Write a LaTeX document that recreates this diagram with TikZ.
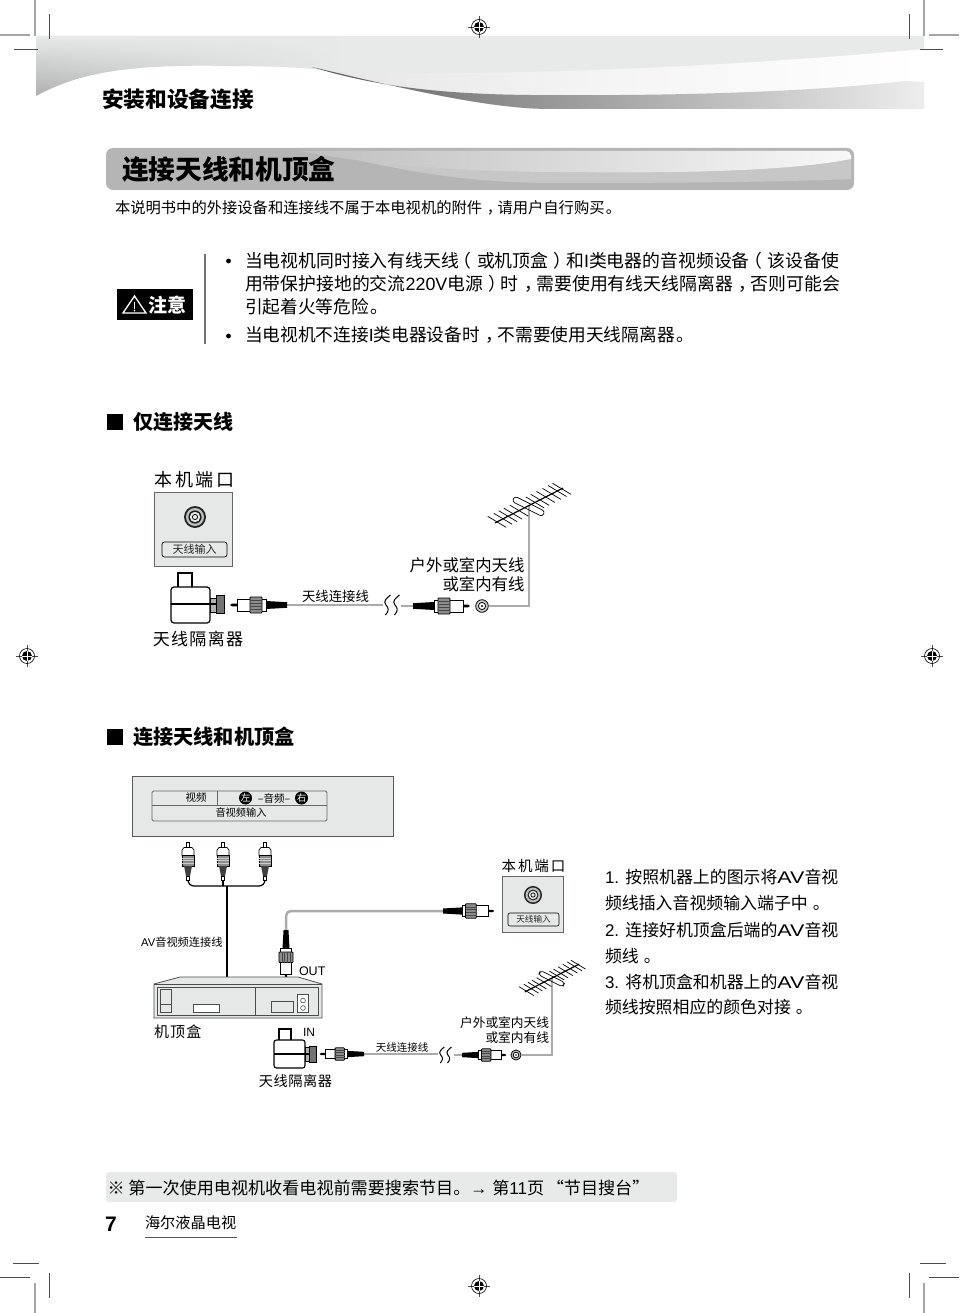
\documentclass[tikz,border=0pt]{standalone}
\usepackage{fontspec}
\usetikzlibrary{fadings}
\setmainfont{Noto Sans CJK SC}
\newfontfamily\latf{Liberation Sans}
\newcommand\fs[1]{\fontsize{#1}{#1}\selectfont}
\newcommand\la[1]{{\latf #1}}
\newcommand\wav{{\latf\scalebox{1.27}[1]{AV}}}
\newcommand\pd{\kern0.3em。\kern-0.3em}
\newcommand\pe{\kern0.08em。\kern-0.08em}
\newcommand\cm{\kern0.3em，\kern-0.3em}
\newcommand\lp{\kern-0.3em（\kern0.3em}
\newcommand\rp{\kern0.3em）\kern-0.3em}
\definecolor{bandc}{HTML}{E8EAEA}
\definecolor{panelc}{HTML}{E6E7E7}
\definecolor{wirec}{HTML}{ABABAB}
\tikzset{
  x=1pt,y=-1pt,
  txt/.style={inner sep=0pt,outer sep=0pt,text=black},
  lft/.style={txt,anchor=west},
  rgt/.style={txt,anchor=east},
  crop/.style={line width=0.6pt,color=black!70},
  cropg/.style={line width=1.3pt,color=black!35},
  portbox/.style={draw=black!60,line width=0.8pt,fill=panelc},
  coax/.style={line width=2.5pt,color=wirec},
  regmark/.pic={
    \draw[line width=0.4pt,black!70] (-11,0)--(11,0) (0,-11)--(0,11);
    \draw[line width=0.6pt,black] (0,0) circle[radius=7.5];
    \fill[black] (0,0) circle[radius=5];
    \draw[line width=0.4pt,white] (-5,0)--(5,0) (0,-5)--(0,5);
  },
  plug/.pic={
    \fill[black] (0,-2.8)--(21,-4)--(21,4)--(0,2.8)--cycle;
    \fill[black] (50,-1.3)--(55,-1.3)--(57,0)--(55,1.3)--(50,1.3)--cycle;
    \draw[line width=0.7pt,fill=white] (21,-6)--(50,-6)--(50,6)--(21,6)--cycle;
    \draw[line width=0.8pt,fill=black!45,rounded corners=0.8pt] (25,-8)--(37,-8)--(37,8)--(25,8)--cycle;
    \foreach \q in {-4.5,-1.5,1.5,4.5}{\draw[line width=0.7pt,black!72] (25,\q)--(37,\q);}
  },
  rca/.pic={
    \draw[line width=0.6pt,fill=white] (-1.7,0)--(1.7,0)--(1.7,6)--(-1.7,6)--cycle;
    \draw[line width=0.7pt,fill=white] (-4,5.5) -- (4,5.5) -- (6,8) -- (6,13.5) -- (-6,13.5) -- (-6,8) -- cycle;
    \draw[line width=0.7pt,fill=black!45] (-6,13.5)--(6,13.5)--(6,24)--(-6,24)--cycle;
    \foreach \q in {16,18.5,21}{\draw[line width=0.5pt,black!20] (-6,\q)--(6,\q);}
    \fill[black!75] (-4,24)--(4,24)--(2,34)--(-2,34)--cycle;
    \draw[line width=0.6pt] (-1.3,34) rectangle (1.3,38);
  },
  antenna/.pic={
    \foreach \t in {-32,-26,-21,-16,-10,6,11,16.7,22.7,28.3,32.7}{
      \draw[line width=0.7pt] (\t-9.2,-0.512*\t-5.5)--(\t+9.2,-0.512*\t+5.5);
    }
    \draw[line width=1.2pt] (-34,17.4)--(34,-17.4);
    \draw[line width=0.7pt,rotate=-26.6,rounded corners=3pt] (-17,-2)--(17,-2)--(17,4)--(-17,4)--cycle;
  },
  socket/.pic={
    \fill[black!85] (0,0) circle[radius=11];
    \fill[black!25] (0,0) circle[radius=9];
    \fill[black!90] (0,0) circle[radius=6.6];
    \fill[panelc] (0,0) circle[radius=5.2];
    \draw[line width=0.7pt] (0,0) circle[radius=2.6];
  },
  jack/.pic={
    \draw[line width=0.8pt,fill=black!20] (0,0) circle[radius=6.3];
    \draw[line width=0.8pt,fill=white] (0,0) circle[radius=3.6];
    \fill[black] (0,0) circle[radius=1.2];
  },
  brk/.pic={
    \foreach \dx in {0,9}{
      \draw[line width=1pt,xshift=\dx pt] (3.5,-10) .. controls (0,-7) and (-4.5,-4) .. (-1,0) .. controls (2,3) and (2,6) .. (-1.5,10);
    }
  }
}
\begin{document}
\begin{tikzpicture}
\useasboundingbox (0,0) rectangle (959,1313);
\fill[white] (0,0) rectangle (959,1313);

% header band
\fill[bandc] (36,36) -- (924,36) -- (924,109) -- (550,109) .. controls (500,109) and (430,95) .. (342,74) .. controls (320,68) and (290,66.5) .. (230,66) .. controls (130,64) and (80,72) .. (36,96) -- cycle;
\begin{scope}
\clip (36,36) -- (340,36) -- (340,74) .. controls (320,68) and (290,66.5) .. (230,66) .. controls (130,64) and (80,72) .. (36,96) -- cycle;
\shade[top color=bandc,bottom color=black!32,path fading=east] (36,36) rectangle (345,98);
\end{scope}
\shade[left color=black!10,right color=white,middle color=black!4] (306,66) .. controls (340,74) and (380,73) .. (440,73) .. controls (600,73) and (780,62) .. (924,49) -- (924,109) -- (550,109) .. controls (500,109) and (430,95) .. (342,74) -- cycle;
\shade[left color=black!62,middle color=black!27,right color=black!7] (312,67) .. controls (370,85) and (440,96) .. (560,95) .. controls (700,96) and (830,90) .. (905,81) -- (924,82) -- (924,109) -- (550,109) .. controls (500,109) and (430,95) .. (342,74) -- cycle;

% crop marks
\draw[cropg] (35,0)--(35,36) (0,35)--(30,35) (924,0)--(924,36) (929,35)--(959,35);
\draw[crop] (49,14)--(49,39) (14,49)--(38,49) (909,14)--(909,39) (920,49)--(943,49);
\draw[crop] (13,1263)--(39,1263) (0,1277)--(30,1277) (49,1273)--(49,1298) (920,1263)--(946,1263) (929,1277)--(959,1277) (909,1273)--(909,1298);
\draw[cropg] (35,1283)--(35,1313) (924,1283)--(924,1313);
\pic at (479,27) {regmark};
\pic at (27,656) {regmark};
\pic at (932,656) {regmark};
\pic at (479,1286) {regmark};

\node[lft,font=\fs{21.7}\bfseries] (head) at (102,99) {安装和设备连接};

% title bar
\fill[black!29,rounded corners=7pt] (106,148) rectangle (854,190);
\begin{scope}
\clip[rounded corners=5pt] (108,151) rectangle (851,187);
\fill[black!22] (340,156) .. controls (420,175) and (480,183) .. (560,183) .. controls (680,183) and (780,182) .. (851,179) -- (851,150) -- (340,150) -- cycle;
\shade[left color=black!25,middle color=black!8,right color=black!3] (300,151) -- (851,151) -- (851,159) .. controls (780,173) and (650,173) .. (560,172) .. controls (470,172) and (370,165) .. (300,151) -- cycle;
\end{scope}
\node[lft,font=\fs{26.7}\bfseries] (title) at (122,169) {连接天线和机顶盒};
\node[lft,font=\fs{15.3}] (intro) at (115,208) {本说明书中的外接设备和连接线不属于本电视机的附件\cm 请用户自行购买\pe};

% warning
\fill[black] (117,289) rectangle (193,320);
\draw[white,line width=1.3pt,line join=miter] (134.5,296)--(146,313)--(123,313)--cycle;
\draw[white,line width=1.5pt] (134.5,302)--(134.5,308.5);
\fill[white] (134.5,310.6) circle[radius=0.9];
\node[lft,font=\fs{19}\bfseries,text=white] (warn) at (148,305) {注意};
\draw[black!55,line width=1.2pt] (205,254)--(205,344);
\fill[black] (228.5,261) circle[radius=2.4];
\fill[black] (228.5,336) circle[radius=2.4];
\node[lft,font=\fs{17.85}] (w1) at (245,261) {当电视机同时接入有线天线\lp 或机顶盒\rp 和\la{I}类电器的音视频设备\lp 该设备使};
\node[lft,font=\fs{17.85}] (w2) at (245,284) {用带保护接地的交流\la{220V}电源\rp 时\cm 需要使用有线天线隔离器\cm 否则可能会};
\node[lft,font=\fs{17.7}] (w3) at (245,307) {引起着火等危险\pe};
\node[lft,font=\fs{17.7}] (w4) at (245,335) {当电视机不连接\la{I}类电器设备时\cm 不需要使用天线隔离器\pe};

% section 1
\fill[black] (107,414) rectangle (123,430);
\node[lft,font=\fs{20}\bfseries] (s1) at (133,422) {仅连接天线};

\node[txt,font=\fs{18}\addfontfeature{LetterSpace=15}] (portA) at (194.5,480) {本机端口};
\draw[portbox] (154,492) rectangle (232,566);
\pic at (195,517) {socket};
\node[draw,line width=0.7pt,rounded corners=2.5pt,fill=panelc,minimum width=65pt,minimum height=15pt,inner sep=0pt,font=\fs{11},text=black!85] (pillA) at (194.5,549.5) {天线输入};

% isolator 1
\draw[line width=1.2pt,fill=white] (178,573) rectangle (192,588);
\draw[line width=0.8pt,fill=black!30] (210,598) rectangle (216,612);
\draw[line width=0.8pt,fill=black!55] (216,595.5) rectangle (224,613.5);
\draw[line width=1.2pt,fill=white,rounded corners=3pt] (171,587) rectangle (210,623);
\draw[line width=1.2pt] (171,604)--(216,604);
\node[txt,font=\fs{17}\addfontfeature{LetterSpace=8}] (isoA) at (198,639) {天线隔离器};

% cable 1
\coordinate (a1) at (287,605);
\coordinate (a2) at (383,605);
\coordinate (a3) at (401,606);
\coordinate (a4) at (413,606);
\coordinate (jackA) at (482,606);
\coordinate (bendA) at (529,606);
\coordinate (antA) at (529,505.5);
\draw[coax] (a1)--(a2);
\draw[coax] (a3)--(a4);
\pic[xscale=-1] at (a1) {plug};
\pic at (a4) {plug};
\pic at (387,605) {brk};
\pic at (jackA) {jack};
\draw[coax,line width=2.2pt,line join=miter] (jackA)++(6.5,0)--(bendA)--(antA);
\pic at (antA) {antenna};
\node[txt,font=\fs{13.4}] (lnkA) at (335.5,596) {天线连接线};
\node[rgt,font=\fs{16.4}] (outA1) at (524.5,565) {户外或室内天线};
\node[rgt,font=\fs{16.4}] (outA2) at (524.5,584) {或室内有线};

% section 2
\fill[black] (107,729) rectangle (123,745);
\node[lft,font=\fs{20.2}\bfseries] (s2) at (133,737) {连接天线和机顶盒};

% AV panel
\draw[draw=black!65,line width=0.9pt,fill=panelc] (132,776) rectangle (393,836);
\draw[black!60,line width=0.8pt,rounded corners=1.5pt] (152,821)--(152,791)--(327,791)--(327,821)--cycle;
\draw[black!60,line width=0.8pt] (152,805)--(327,805) (217,791)--(217,805);
\node[txt,font=\fs{10.5}] (vid) at (196,798) {视频};
\node[txt,font=\fs{10.2}] (avin) at (241,813) {音视频输入};
\node[circle,fill=black,text=white,inner sep=0pt,minimum size=13pt,font=\fs{9.5}] (lch) at (245.5,798) {左};
\node[circle,fill=black,text=white,inner sep=0pt,minimum size=13pt,font=\fs{9.5}] (rch) at (301.5,798) {右};
\node[txt,font=\fs{10.5}] (aud) at (274,798) {–音频–};

% rca
\coordinate (r1) at (188,842);
\coordinate (r2) at (223,842);
\coordinate (r3) at (265,842);
\coordinate (av0) at (227,886);
\coordinate (av1) at (227,977);
\draw[line width=1.2pt,rounded corners=6pt] (188,880)--(188,886)--(265,886)--(265,880);
\draw[line width=1.2pt] (223,880)--(223,886);
\draw[line width=2.2pt] (av0)--(av1);
\pic at (r1) {rca};
\pic at (r2) {rca};
\pic at (r3) {rca};
\node[rgt,font=\fs{11.2}] (avl) at (222.5,942) {\la{AV}音视频连接线};

% port B
\node[txt,font=\fs{14.5}\addfontfeature{LetterSpace=13}] (portB) at (533.5,866) {本机端口};
\draw[portbox] (502,876) rectangle (563,932);
\pic[scale=0.82] at (533,895) {socket};
\node[draw,line width=0.6pt,rounded corners=2pt,fill=panelc,minimum width=51pt,minimum height=13pt,inner sep=0pt,font=\fs{8.6},text=black!85] (pillB) at (533.5,919.5) {天线输入};

% grey cable to port B
\coordinate (c1) at (286,930);
\coordinate (c2) at (286,911);
\coordinate (c3) at (443,911);
\draw[coax,rounded corners=5pt] (c1)--(c2)--(c3);
\pic[scale=0.9] at (c3) {plug};
\pic[scale=0.88,rotate=-90] at (c1) {plug};
\node[lft,font=\latf\fs{12.5}] (outl) at (299,971) {OUT};

% set-top box
\draw[black!70,line width=0.8pt,fill=panelc] (154,984)--(180,977)--(298,977)--(322,984)--(322,1018)--(154,1018)--cycle;
\draw[black!70,line width=0.8pt] (154,984)--(322,984);
\draw[black!70,line width=0.7pt] (157,987) rectangle (318,1015) (255,987)--(255,1015);
\draw[black!70,line width=0.7pt] (160,989) rectangle (171,1012) (160,1004)--(171,1004);
\draw[black!70,line width=0.7pt,fill=white] (193,1004) rectangle (219,1012);
\draw[black!70,line width=0.7pt] (271,1001) rectangle (293,1012);
\draw[black!70,line width=0.7pt,fill=white] (297,994) rectangle (308,1012);
\draw[black!70,line width=0.6pt] (303,1000.5) circle[radius=2.4] (303,1008) circle[radius=2.4];
\node[lft,font=\fs{15}\addfontfeature{LetterSpace=8}] (stb) at (154,1032) {机顶盒};
\node[lft,font=\latf\fs{12}] (inl) at (303,1032) {IN};

% isolator 2
\draw[line width=1.1pt,fill=white] (279,1029) rectangle (291,1041);
\draw[line width=0.8pt,fill=black!30] (305,1047) rectangle (309,1061);
\draw[line width=0.8pt,fill=black!55] (309,1046) rectangle (316,1062);
\draw[line width=1.1pt,fill=white,rounded corners=2.5pt] (274,1040) rectangle (305,1068);
\draw[line width=1.1pt] (274,1054)--(309,1054);
\node[txt,font=\fs{14.2}\addfontfeature{LetterSpace=4}] (isoB) at (295.5,1081) {天线隔离器};

% cable 2
\coordinate (b1) at (364,1054);
\coordinate (b2) at (438,1054);
\coordinate (b3) at (454,1055);
\coordinate (b4) at (462,1055);
\coordinate (jackB) at (516,1055);
\coordinate (bendB) at (552,1055);
\coordinate (antB) at (552,978);
\draw[coax,line width=2pt] (b1)--(b2);
\draw[coax,line width=2pt] (b3)--(b4);
\pic[xscale=-0.78,yscale=0.78] at (b1) {plug};
\pic[scale=0.78] at (b4) {plug};
\pic[scale=0.8] at (441.5,1055) {brk};
\pic[scale=0.8] at (jackB) {jack};
\draw[coax,line width=1.8pt,line join=miter] (jackB)++(5,0)--(bendB)--(antB);
\pic[scale=0.8] at (antB) {antenna};
\node[txt,font=\fs{10.5}] (lnkB) at (402,1047) {天线连接线};
\node[rgt,font=\fs{12.7}] (outB1) at (549,1023) {户外或室内天线};
\node[rgt,font=\fs{12.7}] (outB2) at (549,1038) {或室内有线};

% instructions
\node[lft,font=\fs{16.9}] (i1) at (605,877) {\la{1. }按照机器上的图示将\wav 音视};
\node[lft,font=\fs{16.9}] (i2) at (605,903) {频线插入音视频输入端子中\pd};
\node[lft,font=\fs{16.9}] (i3) at (605,930) {\la{2. }连接好机顶盒后端的\wav 音视};
\node[lft,font=\fs{16.9}] (i4) at (605,956) {频线\pd};
\node[lft,font=\fs{16.9}] (i5) at (605,982) {\la{3. }将机顶盒和机器上的\wav 音视};
\node[lft,font=\fs{16.9}] (i6) at (605,1007) {频线按照相应的颜色对接\pd};

% footer
\fill[bandc,rounded corners=3pt] (106,1172) rectangle (677,1202);
\node[lft,font=\fs{17.1}] (note) at (107.5,1188) {※ 第一次使用电视机收看电视前需要搜索节目。\la{→} \kern1pt第\la{11}页\kern2.5pt“节目搜台”};
\node[lft,font=\latf\fs{21}\bfseries] (pnum) at (105,1224) {7};
\node[lft,font=\fs{15.2}] (brand) at (145,1223) {海尔液晶电视};
\draw[black!65,line width=0.9pt] (145,1237)--(237,1237);
\end{tikzpicture}
\end{document}
